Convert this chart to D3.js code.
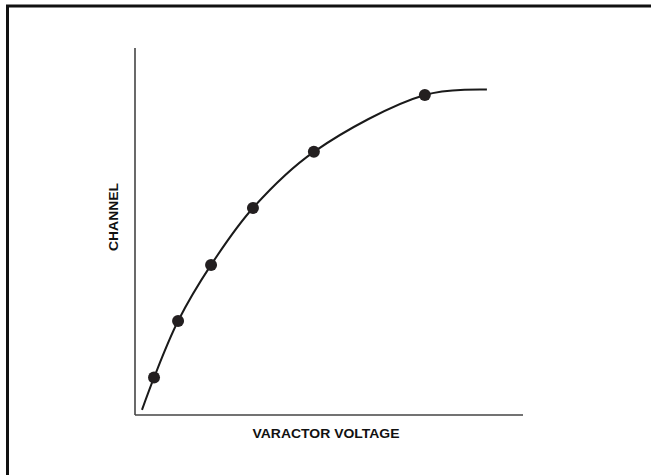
<!DOCTYPE html>
<html>
<head>
<meta charset="utf-8">
<script src="https://cdn.jsdelivr.net/npm/d3@7"></script>
<style>
  body { margin: 0; background: #fff; }
  text { font-family: "Liberation Sans", Arial, sans-serif; font-weight: bold; }
</style>
</head>
<body>
<svg id="chart"></svg>
<script>
// measured points (voltage %, channel %)
let voltage = [4.9, 11.1, 19.6, 30.4, 46.1, 74.7];
let channel = [10.2, 25.6, 40.9, 56.4, 71.7, 87.2];
// fitted curve ends
let curveStart = [1.8, 1.4];
let curveEnd = [90.7, 88.7];

let xLabel = "VARACTOR VOLTAGE";
let yLabel = "CHANNEL";

let width = 651;
let height = 475;

let svg = d3.select("#chart")
  .attr("width", width)
  .attr("height", height);

// frame (only top + left edges show)
svg.append("path")
  .attr("d", "M7.5,475 V6 H651")
  .attr("fill", "none")
  .attr("stroke", "#111")
  .attr("stroke-width", 3);

let x = d3.scaleLinear().domain([0, 100]).range([135, 523]);
let y = d3.scaleLinear().domain([0, 100]).range([415, 48]);

// axes without ticks
let plot = svg.append("g");
plot.append("line")
  .attr("x1", x(0)).attr("x2", x(0))
  .attr("y1", y(100)).attr("y2", y(0))
  .attr("stroke", "#444").attr("stroke-width", 1.6);
plot.append("line")
  .attr("x1", x(0)).attr("x2", x(100))
  .attr("y1", y(0)).attr("y2", y(0))
  .attr("stroke", "#444").attr("stroke-width", 1.6);

let pts = voltage.map((v, i) => [v, channel[i]]);
let curvePts = [curveStart].concat(pts, [curveEnd]);

let line = d3.line()
  .curve(d3.curveCatmullRom.alpha(0.5))
  .x(d => x(d[0]))
  .y(d => y(d[1]));

plot.append("path")
  .attr("d", line(curvePts))
  .attr("fill", "none")
  .attr("stroke", "#1a1a1a")
  .attr("stroke-width", 2);

plot.selectAll("circle").data(pts).enter().append("circle")
  .attr("cx", d => x(d[0]))
  .attr("cy", d => y(d[1]))
  .attr("r", 6)
  .attr("fill", "#231f20");

// labels are wide-set in the original, stretch them to the measured length
svg.append("text")
  .attr("x", 326)
  .attr("y", 437.5)
  .attr("text-anchor", "middle")
  .attr("font-size", 12.2)
  .attr("textLength", 147)
  .attr("lengthAdjust", "spacingAndGlyphs")
  .attr("fill", "#111")
  .text(xLabel);

svg.append("text")
  .attr("transform", "translate(117.5," + 217 + ") rotate(-90)")
  .attr("text-anchor", "middle")
  .attr("font-size", 12.2)
  .attr("textLength", 68)
  .attr("lengthAdjust", "spacingAndGlyphs")
  .attr("fill", "#111")
  .text(yLabel);
</script>
</body>
</html>
